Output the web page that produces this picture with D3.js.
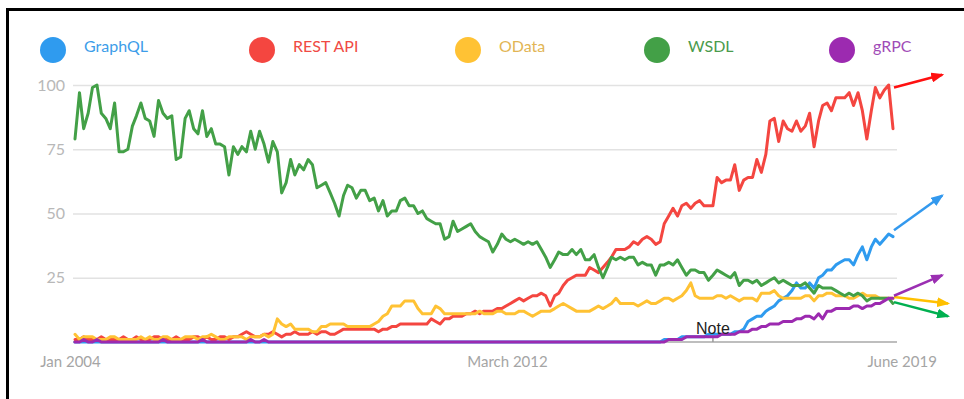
<!DOCTYPE html>
<html>
<head>
<meta charset="utf-8">
<script src="https://cdn.jsdelivr.net/npm/d3@7"></script>
<style>
  html, body { margin: 0; padding: 0; background: #fff; }
  svg { display: block; }
</style>
</head>
<body>
<svg id="chart" width="964" height="399"></svg>
<script>
// Interest over time (monthly, Jan 2004 – Jul 2019), index 0–100
const seriesNames = ["GraphQL", "REST API", "OData", "WSDL", "gRPC"];

const graphqlValues = [
  0,0,0,0,0,0,0,0,0,0, 0,0,0,0,0,0,0,0,0,0, 0,0,0,0,0,0,0,0,0,0,
  0,0,0,0,0,0,0,0,0,0, 0,0,0,0,0,0,0,0,0,0, 0,0,0,0,0,0,0,0,0,0,
  0,0,0,0,0,0,0,0,0,0, 0,0,0,0,0,0,0,0,0,0, 0,0,0,0,0,0,0,0,0,0,
  0,0,0,0,0,0,0,0,0,0, 0,0,0,0,0,0,0,0,0,0, 0,0,0,0,0,0,0,0,0,0,
  0,0,0,0,0,0,0,0,0,0,
  0,0,0,0,1,1,1,1,2,2,
  2,2,2,2,3,3,3,3,3,3,
  4,4,5,8,9,10,10,12,13,14,
  16,17,18,20,23,21,21,23,21,25,
  26,28,28,30,31,32,32,30,34,37,
  32,37,40,38,40,42,41
];

const restValues = [
  1,1,2,1,1,1,2,1,1,1,
  1,2,1,1,2,1,1,1,2,2,
  1,1,1,2,1,1,1,2,2,1,
  2,1,1,2,2,1,2,2,3,4,
  3,2,2,3,3,4,3,2,3,3,
  4,3,3,3,4,3,4,4,3,3,
  4,5,5,5,5,5,5,5,5,4,
  5,5,6,6,7,7,7,7,7,7,
  7,9,8,7,9,9,10,10,10,11,
  11,12,11,12,12,12,13,13,14,15,
  16,17,16,17,18,18,19,18,14,18,
  19,22,24,25,26,26,26,29,28,27,
  29,31,33,36,36,36,37,39,38,40,
  41,40,38,39,46,49,52,49,53,54,
  52,54,55,53,53,53,64,62,63,63,
  69,59,63,64,64,71,66,73,86,87,
  78,86,83,82,86,82,84,89,76,86,
  92,93,90,95,95,95,97,92,97,90,
  79,90,99,95,98,100,83
];

const odataValues = [
  3,1,2,2,2,1,1,1,2,2,
  1,1,1,1,1,2,1,2,1,1,
  2,2,1,1,1,2,2,2,1,2,
  2,3,2,1,1,2,2,2,2,1,
  2,2,2,3,2,3,9,7,6,7,
  5,5,5,5,4,4,6,6,7,7,
  7,7,6,6,6,6,6,6,7,8,
  10,11,14,14,14,16,16,16,13,11,
  11,11,14,13,11,11,11,11,11,11,
  11,11,12,11,11,11,12,12,11,11,
  11,12,12,11,10,11,12,12,12,13,
  14,15,14,13,12,12,12,12,13,14,
  13,14,15,17,15,15,15,15,14,15,
  16,15,15,16,17,17,16,17,18,20,
  23,18,17,17,17,17,18,18,17,18,
  17,16,17,17,17,16,19,19,19,20,
  18,17,17,17,17,17,18,18,16,18,
  18,19,19,18,18,18,17,17,18,19,
  18,18,18,17,17,17,17
];

const wsdlValues = [
  79,97,83,89,99,100,89,87,83,93,
  74,74,75,84,88,93,87,86,80,94,
  89,87,88,71,72,87,90,83,81,90,
  80,83,77,77,76,65,76,73,76,74,
  82,75,82,77,70,78,74,58,62,71,
  65,69,67,71,69,60,61,62,58,54,
  49,57,61,60,56,59,59,55,56,51,
  55,49,51,51,55,56,53,53,50,51,
  48,47,46,46,40,41,47,43,44,45,
  46,43,41,40,39,35,38,42,40,39,
  40,39,38,39,38,39,36,33,29,32,
  35,34,34,36,34,36,32,32,34,29,
  25,29,33,32,33,32,33,33,30,31,
  30,30,26,30,30,31,30,32,29,26,
  28,28,27,27,24,26,28,27,26,25,
  27,22,24,24,23,24,22,23,24,25,
  23,24,23,22,22,22,23,21,19,22,
  21,21,21,20,19,18,19,18,19,18,
  16,17,17,17,17,17,15
];

const grpcValues = [
  0,0,1,0,0,1,0,0,0,0,
  0,0,0,0,0,0,0,0,0,0,
  1,0,0,0,0,0,0,0,0,1,
  0,0,0,0,0,0,0,0,0,0,
  1,0,0,1,0,0,0,0,0,0,
  0,0,0,0,0,0,0,0,0,0, 0,0,0,0,0,0,0,0,0,0,
  0,0,0,0,0,0,0,0,0,0, 0,0,0,0,0,0,0,0,0,0,
  0,0,0,0,0,0,0,0,0,0, 0,0,0,0,0,0,0,0,0,0,
  0,0,0,0,0,0,0,0,0,0, 0,0,0,0,0,0,0,0,0,0,
  0,0,0,0,0,1,1,1,1,2,
  2,2,2,2,2,2,2,3,3,3,
  3,4,4,4,5,5,6,6,7,7,
  7,8,8,8,9,9,10,10,9,11,
  9,12,12,13,13,13,13,14,14,13,
  14,14,15,15,16,17,17
];

const yTickValues = [25, 50, 75, 100];
const xTickDates = [new Date(2004, 0, 1), new Date(2012, 2, 1), new Date(2019, 5, 1)];
const xTickLabels = ["Jan 2004", "March 2012", "June 2019"];

// Trend arrows drawn past the last month: start/end index values and length in months
const trendStart = [43.5, 99, 17.5, 15.5, 18];
const trendEnd   = [57, 104, 15, 10, 26];
const trendMonths = [11, 11, 12.3, 12.3, 11];

const noteDate = new Date(2016, 1, 1);
const noteText = "Note";

// ---------- styling / layout ----------
const lineColors  = ["#2f9bef", "#f44640", "#ffc234", "#43a047", "#9c2ab0"];
const textColors  = ["#3d9de9", "#f04a44", "#e2b555", "#4a9b4c", "#a14cb7"];
const arrowColors = ["#3399ee", "#ff1010", "#ffc000", "#00b050", "#9b2fb2"];
const legendX = [53, 262, 468, 657, 842];

const values = [graphqlValues, restValues, odataValues, wsdlValues, grpcValues];
const months = d3.timeMonth.range(new Date(2004, 0, 1), new Date(2019, 7, 1));

const svg = d3.select("#chart");
const gridLeft = 73, gridRight = 897;

const x = d3.scaleTime()
  .domain([months[0], months[months.length - 1]])
  .range([75, 893]);
const y = d3.scaleLinear().domain([0, 100]).range([342, 85]);

// frame
svg.append("line").attr("x1", 6).attr("x2", 964).attr("y1", 9.5).attr("y2", 9.5)
  .attr("stroke", "#000").attr("stroke-width", 3);
svg.append("line").attr("x1", 7.5).attr("x2", 7.5).attr("y1", 8).attr("y2", 399)
  .attr("stroke", "#000").attr("stroke-width", 3);

// y gridlines + labels
const yAxis = d3.axisLeft(y)
  .tickValues(yTickValues)
  .tickSize(-(gridRight - gridLeft))
  .tickPadding(8)
  .tickFormat(d3.format("d"));
const yg = svg.append("g").attr("transform", `translate(${gridLeft},0)`).call(yAxis);
yg.select(".domain").remove();
yg.selectAll(".tick line").attr("stroke", "#e2e2e2").attr("stroke-width", 1.5);
yg.selectAll(".tick text")
  .attr("fill", "#b8b8b8")
  .attr("font-family", "Lato, 'Open Sans', sans-serif")
  .attr("font-size", 16);

// baseline
svg.append("line")
  .attr("x1", gridLeft).attr("x2", gridRight)
  .attr("y1", y(0)).attr("y2", y(0))
  .attr("stroke", "#a8a8a8").attr("stroke-width", 1.5);

// x labels
const xLabelShift = [-5, 1, 13];
const xAxis = d3.axisBottom(x)
  .tickValues(xTickDates)
  .tickSize(0)
  .tickPadding(14)
  .tickFormat((d, i) => xTickLabels[i]);
const xg = svg.append("g").attr("transform", `translate(0,${y(0)})`).call(xAxis);
xg.select(".domain").remove();
xg.selectAll(".tick text")
  .attr("fill", "#a5a5a5")
  .attr("font-family", "Lato, 'Open Sans', sans-serif")
  .attr("font-size", 15)
  .attr("dx", (d, i) => xLabelShift[i]);

// note marker
svg.append("line")
  .attr("x1", x(noteDate)).attr("x2", x(noteDate))
  .attr("y1", y(0) - 6).attr("y2", y(0))
  .attr("stroke", "#999").attr("stroke-width", 1.5);

// series lines
const line = d3.line()
  .x((d, i) => x(months[i]))
  .y(d => y(d));

svg.append("g").selectAll("path")
  .data(values)
  .join("path")
  .attr("d", d => line(d))
  .attr("fill", "none")
  .attr("stroke", (d, i) => lineColors[i])
  .attr("stroke-width", 3)
  .attr("stroke-linejoin", "round")
  .attr("stroke-linecap", "round");

// note label
svg.append("text")
  .attr("x", x(noteDate)).attr("y", y(0) - 8)
  .attr("text-anchor", "middle")
  .attr("font-family", "'Liberation Sans', Arial, sans-serif")
  .attr("font-size", 16)
  .attr("fill", "#222")
  .text(noteText);

// trend arrows
const defs = svg.append("defs");
arrowColors.forEach((c, i) => {
  defs.append("marker")
    .attr("id", "head" + i)
    .attr("markerUnits", "userSpaceOnUse")
    .attr("markerWidth", 13).attr("markerHeight", 10)
    .attr("refX", 11).attr("refY", 5)
    .attr("orient", "auto")
    .append("path")
    .attr("d", "M0,0 L13,5 L0,10 Z")
    .attr("fill", c);
});
const lastMonth = months[months.length - 1];
const monthPx = x(months[1]) - x(months[0]);
svg.append("g").selectAll("line")
  .data(seriesNames)
  .join("line")
  .attr("x1", (d, i) => x(lastMonth) + 1)
  .attr("y1", (d, i) => y(trendStart[i]))
  .attr("x2", (d, i) => x(lastMonth) + trendMonths[i] * monthPx)
  .attr("y2", (d, i) => y(trendEnd[i]))
  .attr("stroke", (d, i) => arrowColors[i])
  .attr("stroke-width", 2.5)
  .attr("marker-end", (d, i) => `url(#head${i})`);

// legend
const legend = svg.append("g").selectAll("g")
  .data(seriesNames)
  .join("g")
  .attr("transform", (d, i) => `translate(${legendX[i]},50)`);
legend.append("circle")
  .attr("r", 13)
  .attr("fill", (d, i) => lineColors[i]);
legend.append("text")
  .attr("x", 31).attr("y", 2)
  .attr("font-family", "Lato, 'Open Sans', sans-serif")
  .attr("font-size", 16)
  .attr("fill", (d, i) => textColors[i])
  .text(d => d);
</script>
</body>
</html>
